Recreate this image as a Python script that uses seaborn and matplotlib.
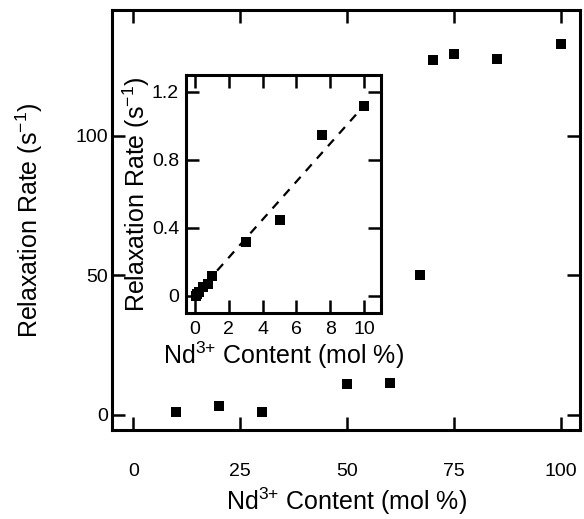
import matplotlib
matplotlib.use("Agg")
import matplotlib.pyplot as plt
import seaborn as sns
import pandas as pd

# Main data
nd_content = [10, 20, 30, 50, 60, 67, 70, 75, 85, 100]
relax_rate = [1.2, 3.3, 1.0, 11.0, 11.6, 50.0, 127.2, 129.4, 127.5, 132.7]

# Inset data
nd_low = [0.05, 0.1, 0.25, 0.5, 0.75, 1.0, 3.0, 5.0, 7.5, 10.0]
relax_low = [0.0, 0.01, 0.02, 0.05, 0.07, 0.115, 0.317, 0.445, 0.949, 1.119]

# Linear fit line (inset)
fit_x = [0.0, 10.0]
fit_y = [0.0, 1.12]

main_xticks = [0, 25, 50, 75, 100]
main_yticks = [0, 50, 100]
inset_xticks = [0, 2, 4, 6, 8, 10]
inset_yticks = [0, 0.4, 0.8, 1.2]
inset_yticklabels = ["0", "0.4", "0.8", "1.2"]

xlabel = r"Nd$^{3{+}}$ Content (mol %)"
ylabel = r"Relaxation Rate (s$^{-1}$)"

sns.set_theme(style="ticks")
plt.rcParams["font.family"] = ["Liberation Sans", "DejaVu Sans"]
plt.rcParams["mathtext.fontset"] = "custom"
plt.rcParams["mathtext.rm"] = "Liberation Sans"
plt.rcParams["mathtext.it"] = "Liberation Sans"
plt.rcParams["mathtext.default"] = "regular"
plt.rcParams["text.color"] = "black"
plt.rcParams["axes.labelcolor"] = "black"
plt.rcParams["xtick.color"] = "black"
plt.rcParams["ytick.color"] = "black"

fig = plt.figure(figsize=(5.84, 5.19), dpi=100)
ax = fig.add_axes([112 / 584, 1 - 430 / 519, (580 - 112) / 584, (430 - 10) / 519])

df_main = pd.DataFrame({"x": nd_content, "y": relax_rate})
sns.scatterplot(data=df_main, x="x", y="y", marker="s", s=60, color="black",
                edgecolor="black", linewidth=0, ax=ax, zorder=3)
ax.set_xlim(-5, 104.5)
ax.set_ylim(-5.4, 145)
ax.set_xticks(main_xticks)
ax.set_yticks(main_yticks)
ax.set_xlabel(xlabel, fontsize=18, labelpad=4)
ax.set_ylabel(ylabel, fontsize=18, labelpad=22)
ax.tick_params(axis="both", direction="in", length=9.5, width=1.8, color="black",
               top=True, right=True, labelsize=14, labelcolor="black")
ax.tick_params(axis="x", pad=24)
ax.tick_params(axis="y", pad=3)
for sp in ax.spines.values():
    sp.set_linewidth(2.2)
    sp.set_color("black")

# Inset
axi = fig.add_axes([186 / 584, 1 - 313 / 519, (381 - 186) / 584, (313 - 75) / 519])
df_fit = pd.DataFrame({"x": fit_x, "y": fit_y})
sns.lineplot(data=df_fit, x="x", y="y", color="black", linewidth=1.6, ax=axi,
             dashes=False, zorder=2)
axi.lines[0].set_dashes([4, 3.5])
df_in = pd.DataFrame({"x": nd_low, "y": relax_low})
sns.scatterplot(data=df_in, x="x", y="y", marker="s", s=60, color="black",
                edgecolor="black", linewidth=0, ax=axi, zorder=3)
axi.set_xlim(-0.53, 11.0)
axi.set_ylim(-0.103, 1.30)
axi.set_xticks(inset_xticks)
axi.set_yticks(inset_yticks)
axi.set_yticklabels(inset_yticklabels)
axi.set_xlabel(xlabel, fontsize=18, labelpad=1)
axi.set_ylabel(ylabel, fontsize=18, labelpad=0)
axi.tick_params(axis="both", direction="in", length=9.5, width=1.8, color="black",
                top=True, right=True, labelsize=14, labelcolor="black")
axi.tick_params(axis="x", pad=6)
axi.tick_params(axis="y", pad=5)
for sp in axi.spines.values():
    sp.set_linewidth(2.2)
    sp.set_color("black")

fig.savefig("out.png", dpi=100, facecolor="white")
